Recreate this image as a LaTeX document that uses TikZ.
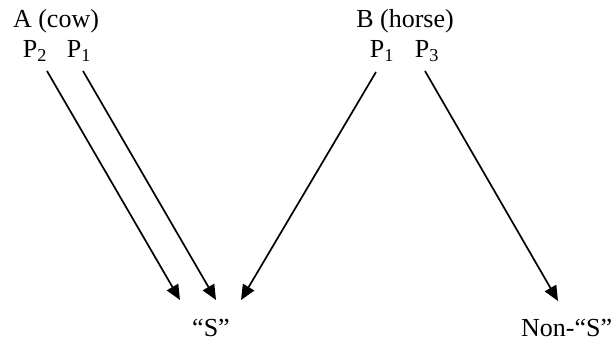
\documentclass[tikz,border=0pt]{standalone}
\usepackage{fontspec}
\setmainfont{Liberation Serif}
\usetikzlibrary{arrows.meta}

\begin{document}
\begin{tikzpicture}[x=1pt, y=-1pt,
        lbl/.style={font=\fontsize{26}{30}\selectfont, inner sep=0pt, anchor=base},
        arr/.style={-{Triangle[length=15pt, width=13pt]}, line width=1.7pt}
      ]
      \useasboundingbox (0,0) rectangle (614,344);
      \node[lbl] (cow) at (56,28) {A (cow)};
      \node[lbl] (pa2) at (35,58) {P\textsubscript{2}};
      \node[lbl] (pa1) at (79,58) {P\textsubscript{1}};
      \node[lbl] (horse) at (405,28) {B (horse)};
      \node[lbl] (pb1) at (382,58) {P\textsubscript{1}};
      \node[lbl] (pb3) at (427,58) {P\textsubscript{3}};
      \node[lbl] (s) at (211,337) {``S''};
      \node[lbl, anchor=base west] (nons) at (521,337) {Non-``S''};
      \draw[arr] ([xshift=12pt, yshift=-13pt]pa2.base) -- ([xshift=-31pt, yshift=37pt]s.base);
      \draw[arr] ([xshift=4pt, yshift=-13pt]pa1.base) -- ([xshift=5pt, yshift=37pt]s.base);
      \draw[arr] ([xshift=-6pt, yshift=-14pt]pb1.base) -- ([xshift=30pt, yshift=37pt]s.base);
      \draw[arr] ([xshift=-2pt, yshift=-13pt]pb3.base) -- ([xshift=37pt, yshift=36pt]nons.base west);
    \end{tikzpicture}
\end{document}
